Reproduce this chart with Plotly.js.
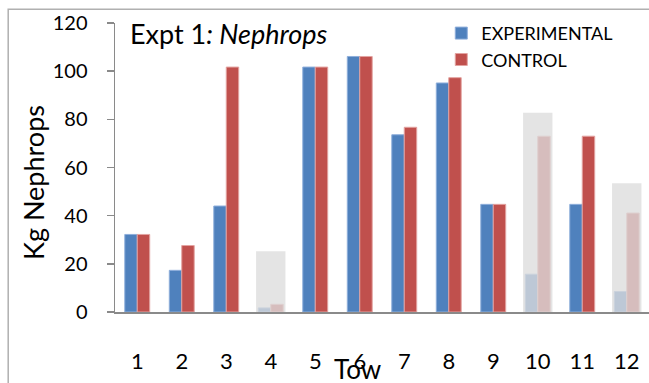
<!DOCTYPE html>
<html>
<head>
<meta charset="utf-8">
<script src="https://cdn.plot.ly/plotly-3.0.1.min.js"></script>
<style>
  html, body { margin: 0; padding: 0; background: #fff; }
  #chart { width: 649px; height: 383px; }
</style>
</head>
<body>
<div id="chart"></div>
<script>
// Catch per tow, Expt 1 (Nephrops, kg)
const tows = [1, 2, 3, 4, 5, 6, 7, 8, 9, 10, 11, 12];
const experimental = [32.2, 17.3, 44.0, 1.7, 101.7, 106.1, 73.6, 95.1, 44.7, 15.7, 44.7, 8.5];
const control      = [32.2, 27.6, 101.7, 3.2, 101.7, 106.1, 76.7, 97.3, 44.7, 73.0, 73.0, 41.1];

// Tows shaded out with a grey panel (top / bottom of each panel in kg)
const shadedTows = [4, 10, 12];
const shadedTop = [25.2, 82.7, 53.5];
const shadedBottom = [0, 0, -0.7];

const yTicks = [0, 20, 40, 60, 80, 100, 120];

const FONT = 'Lato, "Open Sans", sans-serif';
const AXIS_GREY = '#8a8a8a';

const traces = [
  {
    type: 'bar', name: 'EXPERIMENTAL', x: tows, y: experimental,
    marker: { color: '#4f81bd', line: { color: '#8eaedb', width: 1 } }
  },
  {
    type: 'bar', name: 'CONTROL', x: tows, y: control,
    marker: { color: '#c0504d', line: { color: '#e3a3a1', width: 1 } }
  }
];

const shapes = shadedTows.map((t, i) => ({
  type: 'rect', layer: 'above', xref: 'x', yref: 'y',
  x0: t - 0.33, x1: t + 0.33, y0: shadedBottom[i], y1: shadedTop[i],
  fillcolor: 'rgba(221,221,221,0.78)', line: { width: 0 }
}));

// outer chart frame
shapes.push({
  type: 'rect', layer: 'below', xref: 'paper', yref: 'paper',
  x0: -0.2, x1: 1.2, y0: -0.6, y1: 1.048,
  line: { color: '#b0b0b0', width: 1.5 }, fillcolor: 'rgba(0,0,0,0)'
});

const layout = {
  width: 649, height: 383,
  margin: { l: 115, r: 0, t: 23, b: 71 },
  paper_bgcolor: '#fff', plot_bgcolor: '#fff',
  font: { family: FONT, color: '#000' },
  barmode: 'group', bargap: 0.44, bargroupgap: 0,
  showlegend: true,
  legend: {
    x: 0.611, xanchor: 'left', y: 1.028, yanchor: 'top',
    font: { family: FONT, size: 18, color: '#000' },
    bgcolor: 'rgba(0,0,0,0)', traceorder: 'normal', itemclick: false
  },
  xaxis: {
    type: 'linear', range: [0.5, 12.5], tickvals: tows, ticktext: tows.map(String),
    showline: true, linecolor: AXIS_GREY, linewidth: 1.5,
    showgrid: false, zeroline: false, ticks: '', ticklabelstandoff: 29,
    tickfont: { family: FONT, size: 22, color: '#000' }, fixedrange: true
  },
  yaxis: {
    range: [0, 120], tickvals: yTicks,
    showline: true, linecolor: AXIS_GREY, linewidth: 1.5,
    ticks: 'outside', ticklen: 7, tickwidth: 1.5, tickcolor: AXIS_GREY,
    showgrid: false, zeroline: false, ticklabelstandoff: 15,
    tickfont: { family: FONT, size: 20, color: '#000' }, fixedrange: true
  },
  shapes: shapes,
  annotations: [
    {
      xref: 'paper', yref: 'paper', x: 0.0243, y: 0.962, xanchor: 'left', yanchor: 'middle',
      text: 'Expt 1<i>: Nephrops</i>', showarrow: false,
      font: { family: FONT, size: 27, color: '#000' }
    },
    {
      xref: 'paper', yref: 'paper', x: -0.1517, y: 0.45, xanchor: 'center', yanchor: 'middle',
      text: 'Kg Nephrops', textangle: -90, showarrow: false,
      font: { family: FONT, size: 27, color: '#000' }
    },
    {
      xref: 'paper', yref: 'paper', x: 0.454, y: -0.135, xanchor: 'center', yanchor: 'top',
      text: 'Tow', showarrow: false,
      font: { family: FONT, size: 26, color: '#000' }
    }
  ]
};

Plotly.newPlot('chart', traces, layout, { displayModeBar: false, staticPlot: true });
</script>
</body>
</html>
